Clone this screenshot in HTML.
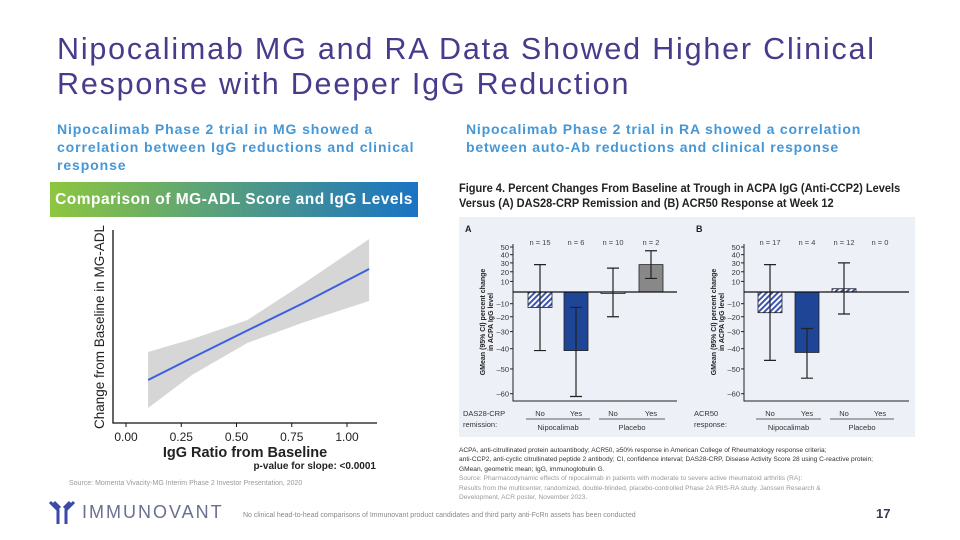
<!DOCTYPE html>
<html><head><meta charset="utf-8">
<style>
body{margin:0;width:960px;height:540px;overflow:hidden;background:#fff;font-family:"Liberation Sans",sans-serif;position:relative}
.a{position:absolute;white-space:nowrap}
</style></head><body>
<div class="a" style="left:57px;top:32px;font-size:30.5px;line-height:35px;color:#4a3a8c;letter-spacing:1.8px">Nipocalimab MG and RA Data Showed Higher Clinical<br>Response with Deeper IgG Reduction</div>
<div class="a" style="left:57px;top:120px;font-size:14px;line-height:18px;font-weight:bold;color:#4597d6;letter-spacing:0.9px">Nipocalimab Phase 2 trial in MG showed a<br>correlation between IgG reductions and clinical<br>response</div>
<div class="a" style="left:466px;top:120px;font-size:14px;line-height:18px;font-weight:bold;color:#4597d6;letter-spacing:0.8px">Nipocalimab Phase 2 trial in RA showed a correlation<br>between auto-Ab reductions and clinical response</div>
<div class="a" style="left:50px;top:182px;width:368px;height:35px;background:linear-gradient(90deg,#8dc63f,#1a73c4);color:#fff;font-weight:bold;font-size:15.5px;line-height:35px;text-align:center;letter-spacing:0.5px">Comparison of MG-ADL Score and IgG Levels</div>

<svg class="a" style="left:0;top:0" width="440" height="480" id="mg"></svg>

<div class="a" style="left:69px;top:480px;font-size:7px;color:#999">Source: Momenta Vivacity-MG Interim Phase 2 Investor Presentation, 2020</div>

<div class="a" style="left:459px;top:181px;font-size:12px;line-height:15px;font-weight:bold;color:#222;transform:scaleX(0.92);transform-origin:left">Figure 4. Percent Changes From Baseline at Trough in ACPA IgG (Anti-CCP2) Levels<br>Versus (A) DAS28-CRP Remission and (B) ACR50 Response at Week 12</div>
<div class="a" style="left:459px;top:217px;width:456px;height:220px;background:#eef0f7"></div>
<svg class="a" style="left:0;top:0" width="960" height="440" id="ra"></svg>

<div class="a" style="left:459px;top:446px;font-size:6.6px;line-height:9.3px;color:#333">ACPA, anti-citrullinated protein autoantibody; ACR50, ≥50% response in American College of Rheumatology response criteria;<br>anti-CCP2, anti-cyclic citrullinated peptide 2 antibody; CI, confidence interval; DAS28-CRP, Disease Activity Score 28 using C-reactive protein;<br>GMean, geometric mean; IgG, immunoglobulin G.</div>
<div class="a" style="left:459px;top:474px;font-size:6.6px;line-height:9.5px;color:#999">Source: Pharmacodynamic effects of nipocalimab in patients with moderate to severe active rheumatoid arthritis (RA):<br>Results from the multicenter, randomized, double-blinded, placebo-controlled Phase 2A IRIS-RA study. Janssen Research &amp;<br>Development, ACR poster, November 2023.</div>

<svg class="a" style="left:48px;top:500px" width="28" height="26"><path d="M2 2 L10 10 L10 24 M26 2 L18 10 L18 24 M6 2 L12 8 M22 2 L16 8" stroke="#3b4aa8" stroke-width="3" fill="none"/></svg>
<div class="a" style="left:82px;top:502px;font-size:18px;letter-spacing:2px;color:#6b6f90">IMMUNOVANT</div>
<div class="a" style="left:243px;top:512px;font-size:7px;color:#888">No clinical head-to-head comparisons of Immunovant product candidates and third party anti-FcRn assets has been conducted</div>
<div class="a" style="left:876px;top:506px;font-size:13px;font-weight:bold;color:#3a3a5a">17</div>

<script>
// MG chart data
const mgX=[0.1,0.3,0.55,0.8,1.1];
const mgFit=[2.23,3.38,4.8,6.2,7.98];
const mgLo=[0.78,2.5,4.15,5.2,6.32];
const mgHi=[3.68,4.35,5.34,7.2,9.53];
const mgTicks=[0,0.25,0.5,0.75,1.0];
const mgTickLabels=["0.00","0.25","0.50","0.75","1.00"];
// RA chart data
const raCatsA=["No","Yes","No","Yes"];
const raNA=["n = 15","n = 6","n = 10","n = 2"];
const raValA=[-13,-41,0,28];
const raLoA=[-41,-61,-20,13];
const raHiA=[28,-13,24,45];
const raNB=["n = 17","n = 4","n = 12","n = 0"];
const raValB=[-17,-42,3,null];
const raLoB=[-46,-54,-18,null];
const raHiB=[28,-28,30,null];
const raTicks=[50,40,30,20,10,-10,-20,-30,-40,-50,-60];

const NS="http://www.w3.org/2000/svg";
function mk(p,t,a,txt){const e=document.createElementNS(NS,t);for(const k in a)e.setAttribute(k,a[k]);if(txt!=null)e.textContent=txt;p.appendChild(e);return e;}

const mg=document.getElementById('mg');
const mx=v=>126+v*221, my=v=>423-v*19.3;
let band=mgX.map((x,i)=>mx(x)+','+my(mgHi[i])).join(' ')+' '+mgX.map((x,i)=>mx(x)+','+my(mgLo[i])).reverse().join(' ');
let e=mk(mg,'polygon',{points:band,fill:'#d6d6d6'});


e=mk(mg,'polyline',{points:mgX.map((x,i)=>mx(x)+','+my(mgFit[i])).join(' '),fill:'none',stroke:'#3b5fe0','stroke-width':2});


mk(mg,'path',{d:'M113 230 V423 H377',stroke:'#111','stroke-width':1.3,fill:'none'});
mgTicks.forEach((t,i)=>{mk(mg,'line',{x1:mx(t),x2:mx(t),y1:423,y2:427,stroke:'#111'});
 const l=mk(mg,'text',{x:mx(t),y:441,'text-anchor':'middle','font-size':12,fill:'#222'},mgTickLabels[i]);
 
 });
e=mk(mg,'text',{x:245,y:457,'text-anchor':'middle','font-size':14.5,'font-weight':'bold',fill:'#222'},'IgG Ratio from Baseline');


e=mk(mg,'text',{x:104,y:327,'text-anchor':'middle','font-size':13.5,fill:'#222',transform:'rotate(-90 104 327)'},'Change from Baseline in MG-ADL');


e=mk(mg,'text',{x:376,y:469,'text-anchor':'end','font-size':10,'font-weight':'bold',fill:'#222'},'p-value for slope: <0.0001');



const ra=document.getElementById('ra');
const defs=mk(ra,'defs',{});
const pat=mk(defs,'pattern',{id:'hatch',width:4,height:4,patternUnits:'userSpaceOnUse',patternTransform:'rotate(45)'});
mk(pat,'rect',{width:4,height:4,fill:'#fff'});mk(pat,'rect',{width:2,height:4,fill:'#3d56b0'});
const ry=p=>292-111*Math.log(1+p/100);
function panel(ax,right,cx,label,vals,lo,hi,ns,fills,cat){
 mk(ra,'text',{x:ax-48,y:232,'font-size':9,'font-weight':'bold',fill:'#222'},label);
 mk(ra,'path',{d:`M${ax} 244 V401 H${right}`,stroke:'#222','stroke-width':1,fill:'none'});
 raTicks.forEach(t=>{mk(ra,'line',{x1:ax-3,x2:ax,y1:ry(t),y2:ry(t),stroke:'#222'});
  mk(ra,'text',{x:ax-4,y:ry(t)+3,'text-anchor':'end','font-size':7.5,fill:'#333'},String(t).replace('-','–'));});
 vals.forEach((v,i)=>{
  const n=mk(ra,'text',{x:cx[i],y:245,'text-anchor':'middle','font-size':7.5,fill:'#444'},ns[i]);
  const c=mk(ra,'text',{x:cx[i],y:416,'text-anchor':'middle','font-size':7.5,fill:'#333'},raCatsA[i]);
  
  
  if(v==null)return;
  const y0=ry(0),y1=ry(v);
  const b=mk(ra,'rect',{x:cx[i]-12,y:Math.min(y0,y1),width:24,height:Math.max(Math.abs(y1-y0),1.5),fill:fills[i],stroke:'#222','stroke-width':0.8});
  
  
  const eb=mk(ra,'path',{d:`M${cx[i]} ${ry(hi[i])} V${ry(lo[i])} M${cx[i]-6} ${ry(hi[i])} H${cx[i]+6} M${cx[i]-6} ${ry(lo[i])} H${cx[i]+6}`,stroke:'#222','stroke-width':1.2,fill:'none'});
  
  
 });
 mk(ra,'line',{x1:ax,x2:right,y1:ry(0),y2:ry(0),stroke:'#111','stroke-width':1.3});
 mk(ra,'text',{x:ax-50,y:416,'font-size':7.5,fill:'#333'},cat[0]);
 mk(ra,'text',{x:ax-50,y:427,'font-size':7.5,fill:'#333'},cat[1]);
 [[cx[0],cx[1],'Nipocalimab'],[cx[2],cx[3],'Placebo']].forEach(g=>{
  mk(ra,'line',{x1:g[0]-14,x2:g[1]+14,y1:419,y2:419,stroke:'#333','stroke-width':0.7});
  mk(ra,'text',{x:(g[0]+g[1])/2,y:430,'text-anchor':'middle','font-size':7.5,fill:'#333'},g[2]);});
 mk(ra,'text',{x:ax-28,y:322,'text-anchor':'middle','font-size':7,'font-weight':'bold',fill:'#222',transform:`rotate(-90 ${ax-28} 322)`},'GMean (95% CI) percent change');
 mk(ra,'text',{x:ax-20,y:322,'text-anchor':'middle','font-size':7,'font-weight':'bold',fill:'#222',transform:`rotate(-90 ${ax-20} 322)`},'in ACPA IgG level');
}
panel(513,677,[540,576,613,651],'A',raValA,raLoA,raHiA,raNA,['url(#hatch)','#1f4596','#fff','#888'],['DAS28-CRP','remission:']);
panel(744,909,[770,807,844,880],'B',raValB,raLoB,raHiB,raNB,['url(#hatch)','#1f4596','url(#hatch)','#fff'],['ACR50','response:']);
</script>
</body></html>
